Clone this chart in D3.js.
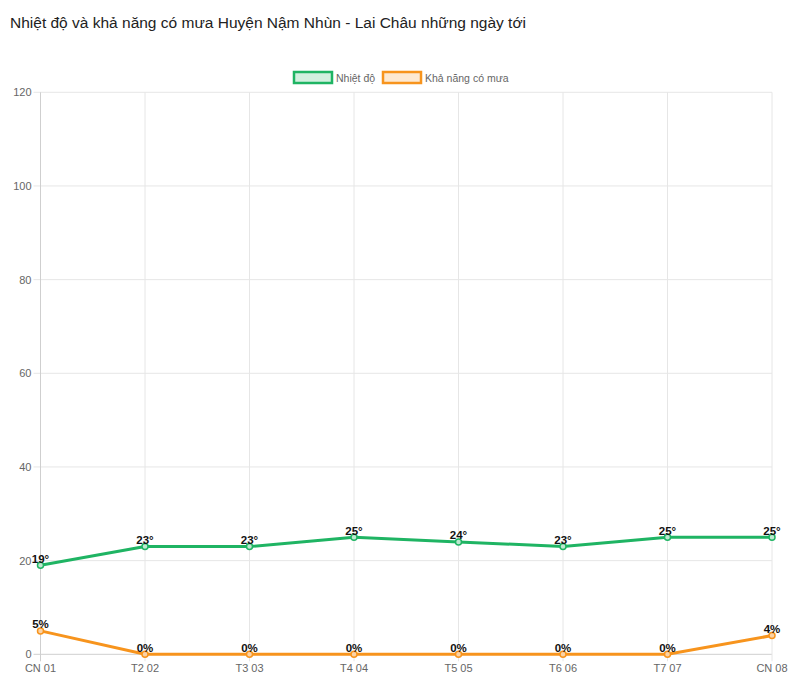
<!DOCTYPE html>
<html><head><meta charset="utf-8">
<script src="https://cdn.jsdelivr.net/npm/d3@7/dist/d3.min.js"></script>
<style>body{margin:0;background:#fff;font-family:"Liberation Sans",Arial,sans-serif}</style>
</head><body><svg id="c" width="800" height="693"></svg>
<script>
const categories = ["CN 01","T2 02","T3 03","T4 04","T5 05","T6 06","T7 07","CN 08"];
const temperature = [19,23,23,25,24,23,25,25];
const rainChance = [5,0,0,0,0,0,0,4];
const yTicks = [0,20,40,60,80,100,120];
const titleText = "Nhiệt độ và khả năng có mưa Huyện Nậm Nhùn - Lai Châu những ngày tới";
const seriesNames = ["Nhiệt độ","Khả năng có mưa"];

const svg = d3.select("#c");
const m = {l:40.5, r:772, t:92.3, b:654.3};
const x = d3.scalePoint().domain(categories).range([m.l, m.r]);
const y = d3.scaleLinear().domain([0,120]).range([m.b, m.t]);
const green = "#1fb463", orange = "#f7941d";

svg.append("text").attr("x",10).attr("y",28).attr("font-size",15.5).attr("fill","#222")
  .attr("font-family","'Liberation Sans',Arial,sans-serif").text(titleText);

// grid
const g = svg.append("g");
g.selectAll(".hg").data(yTicks).join("line")
  .attr("x1",m.l-7).attr("x2",m.r).attr("y1",d=>y(d)).attr("y2",d=>y(d))
  .attr("stroke",d=>d===0?"#cfcfcf":"#e6e6e6").attr("stroke-width",1);
g.selectAll(".vg").data(categories).join("line")
  .attr("x1",d=>x(d)).attr("x2",d=>x(d)).attr("y1",m.t).attr("y2",m.b+7)
  .attr("stroke",(d,i)=>i===0?"#cfcfcf":"#e6e6e6").attr("stroke-width",1);
g.selectAll(".yl").data(yTicks).join("text")
  .attr("x",m.l-9).attr("y",d=>y(d)+4).attr("text-anchor","end")
  .attr("font-size",11).attr("fill","#666").text(d=>d);
g.selectAll(".xl").data(categories).join("text")
  .attr("x",d=>x(d)).attr("y",m.b+18).attr("text-anchor","middle")
  .attr("font-size",11).attr("fill","#666").text(d=>d);

// legend
const leg = [{n:seriesNames[0],c:green,f:"#d2f0df",x:294},{n:seriesNames[1],c:orange,f:"#fde9d2",x:383}];
leg.forEach(l=>{
  svg.append("rect").attr("x",l.x).attr("y",72).attr("width",38).attr("height",11)
    .attr("fill",l.f).attr("stroke",l.c).attr("stroke-width",2.5);
  svg.append("text").attr("x",l.x+42).attr("y",81.5).attr("font-size",10.5).attr("fill","#666").text(l.n);
});

function series(vals,color,fill,suffix){
  const line = d3.line().x((d,i)=>x(categories[i])).y(d=>y(d));
  svg.append("path").datum(vals).attr("d",line).attr("fill","none")
    .attr("stroke",color).attr("stroke-width",3).attr("stroke-linejoin","round");
  svg.append("g").selectAll("circle").data(vals).join("circle")
    .attr("cx",(d,i)=>x(categories[i])).attr("cy",d=>y(d)).attr("r",3)
    .attr("fill",fill).attr("stroke",color).attr("stroke-width",1.5);
  svg.append("g").selectAll("text").data(vals).join("text")
    .attr("x",(d,i)=>x(categories[i])).attr("y",d=>y(d)-2.5).attr("text-anchor","middle")
    .attr("font-size",11.5).attr("font-weight","bold").attr("fill","#111").text(d=>d+suffix);
}
series(rainChance,orange,"#fbd3a6","%");
series(temperature,green,"#bfe8d1","°");
</script></body></html>
